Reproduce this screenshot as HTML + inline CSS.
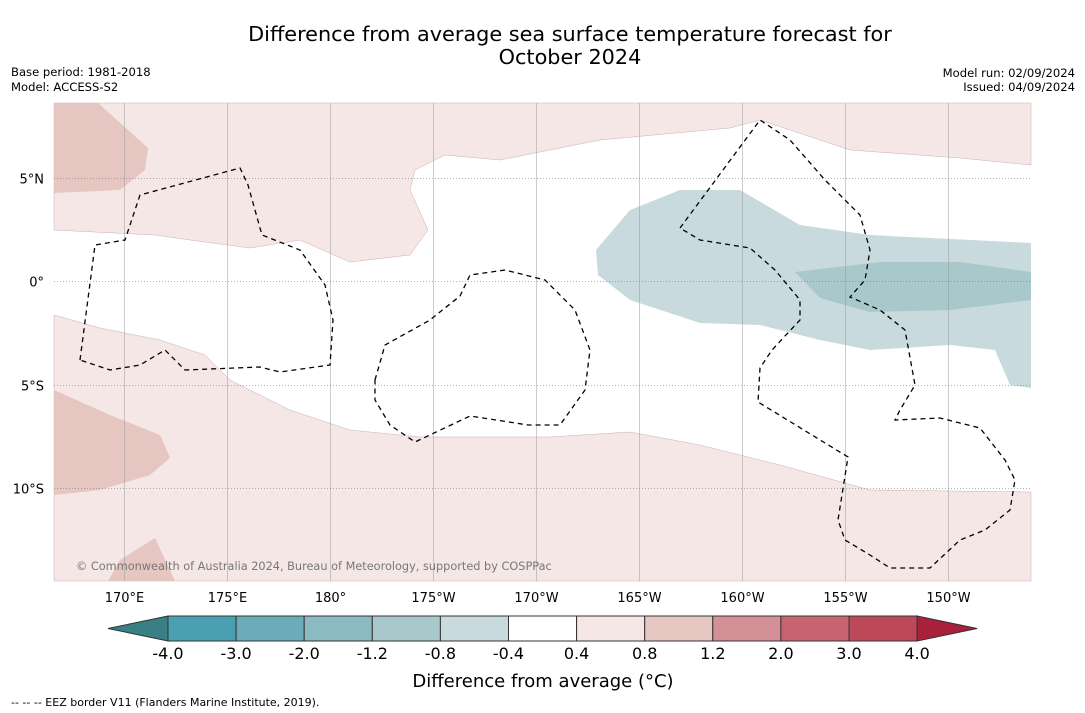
<!DOCTYPE html>
<html><head><meta charset="utf-8"><style>
body{margin:0;background:#fff;font-family:"DejaVu Sans","Liberation Sans",sans-serif;}
svg{display:block}
</style></head><body>
<svg id="c" width="1085" height="713" xmlns="http://www.w3.org/2000/svg">
<text x="570" y="41" font-size="20.8" text-anchor="middle">Difference from average sea surface temperature forecast for</text>
<text x="570" y="64" font-size="20.8" text-anchor="middle">October 2024</text>
<text x="11" y="76" font-size="11.6">Base period: 1981-2018</text>
<text x="11" y="91" font-size="11.6">Model: ACCESS-S2</text>
<text x="1075" y="77" font-size="11.6" text-anchor="end">Model run: 02/09/2024</text>
<text x="1075" y="91" font-size="11.6" text-anchor="end">Issued: 04/09/2024</text>
<g>
<rect x="54" y="103" width="977" height="478" fill="#fff"/>
<path fill="#f5e7e6" stroke="#c9b0b0" stroke-width="0.5" d="M54,103 L1031,103 L1031,165 L960,158 L850,150 L790,130 L760,120 L730,128 L600,140 L500,160 L445,155 L415,170 L410,190 L428,230 L410,255 L350,262 L300,240 L250,248 L190,240 L155,235 L54,230 Z"/>
<path fill="#e5c6c1" d="M54,103 L98,103 L148,148 L145,170 L120,190 L54,193 Z"/>
<path fill="#f5e7e6" stroke="#c9b0b0" stroke-width="0.5" d="M54,315 L100,328 L160,340 L205,355 L230,380 L290,410 L350,430 L420,437 L550,437 L630,432 L700,445 L780,465 L870,490 L1031,492 L1031,581 L54,581 Z"/>
<path fill="#e5c6c1" d="M54,390 L110,415 L160,435 L170,458 L150,475 L100,490 L54,495 Z"/>
<path fill="#e5c6c1" d="M108,581 L120,560 L155,538 L175,581 Z"/>
<path fill="#c8dadd" d="M596,250 L630,210 L680,190 L740,190 L800,225 L870,235 L1031,243 L1031,388 L1010,385 L995,350 L950,345 L870,350 L820,340 L760,325 L700,323 L630,300 L598,275 Z"/>
<path fill="#a9c8cc" d="M795,272 L880,262 L960,262 L1031,272 L1031,300 L950,310 L870,312 L820,298 Z"/>
</g>
<g id="grid"></g>
<g fill="none" stroke="#000" stroke-width="1.3" stroke-dasharray="5,4">
<path d="M80,360 L95,245 L125,240 L140,195 L240,168 L248,185 L262,235 L300,250 L325,285 L333,320 L330,365 L280,372 L260,367 L185,370 L165,350 L140,365 L110,370 Z"/>
<path d="M375,380 L385,345 L430,320 L460,296 L470,275 L505,270 L545,280 L575,310 L590,350 L585,390 L560,425 L528,425 L470,416 L415,442 L390,425 L375,400 Z"/>
<path d="M680,228 L760,120 L790,140 L825,180 L860,215 L870,250 L865,280 L850,297 L880,310 L905,330 L915,385 L900,410 L895,420 L940,418 L980,428 L1005,460 L1015,480 L1010,510 L985,530 L960,540 L930,568 L890,568 L870,555 L845,540 L838,520 L848,457 L758,402 L760,368 L772,350 L800,320 L800,300 L775,270 L750,248 L700,240 Z"/>
</g>
<text x="76" y="570" font-size="11.3" fill="#777">© Commonwealth of Australia 2024, Bureau of Meteorology, supported by COSPPac</text>
<g id="cbar"></g>
<text x="543" y="687" font-size="18" text-anchor="middle">Difference from average (°C)</text>
<text x="11" y="706" font-size="11">-- -- -- EEZ border V11 (Flanders Marine Institute, 2019).</text>
</svg>
<script>
const lonLabels=["170°E","175°E","180°","175°W","170°W","165°W","160°W","155°W","150°W"];
const lonValues=[170,175,180,185,190,195,200,205,210];
const latLabels=["5°N","0°","5°S","10°S"];
const latValues=[5,0,-5,-10];
const cbTicks=["-4.0","-3.0","-2.0","-1.2","-0.8","-0.4","0.4","0.8","1.2","2.0","3.0","4.0"];
const cbColors=["#4aa0b0","#6aacb8","#8bbac0","#a9c8cc","#c8dadd","#ffffff","#f5e7e6","#e5c6c1","#d58f96","#c8646f","#bd4857"];
const NS="http://www.w3.org/2000/svg";
const xLon=l=>124+(l-170)*20.6, yLat=a=>281-a*20.7;
const g=document.getElementById('grid'), cb=document.getElementById('cbar'), svg=document.getElementById('c');
function mk(p,t,a){const e=document.createElementNS(NS,t);for(const k in a)e.setAttribute(k,a[k]);p.appendChild(e);return e;}
lonValues.forEach((v,i)=>{const x=Math.round(xLon(v))+0.5;
 const l=mk(g,'line',{x1:x,x2:x,y1:103,y2:581,stroke:'#999','stroke-width':0.5});
 
 
 const t=mk(svg,'text',{x:x,y:602,'font-size':13,'text-anchor':'middle'});t.textContent=lonLabels[i];
 
 });
latValues.forEach((v,i)=>{const y=Math.round(yLat(v))+0.5;
 const l=mk(g,'line',{x1:54,x2:1031,y1:y,y2:y,stroke:'#666','stroke-width':0.5,'stroke-dasharray':'1,2'});
 
 
 const t=mk(svg,'text',{x:44,y:y+5,'font-size':13,'text-anchor':'end'});t.textContent=latLabels[i];
 
 });
const x0=168,w=68.1,y0=616,h=25;
const lt=mk(cb,'polygon',{points:`108,${y0+h/2} ${x0},${y0} ${x0},${y0+h}`,fill:'#3a7e86',stroke:'#333'});


cbColors.forEach((c,i)=>{const r=mk(cb,'rect',{x:x0+i*w,y:y0,width:w,height:h,fill:c,stroke:'#333','stroke-width':1});
 
 });
const xe=x0+cbColors.length*w;
const rt=mk(cb,'polygon',{points:`${xe},${y0} ${xe+60},${y0+h/2} ${xe},${y0+h}`,fill:'#a8203a',stroke:'#333'});


cbTicks.forEach((s,i)=>{const t=mk(cb,'text',{x:x0+i*w,y:659,'font-size':16,'text-anchor':'middle'});t.textContent=s;
 
 });
</script>
</body></html>
